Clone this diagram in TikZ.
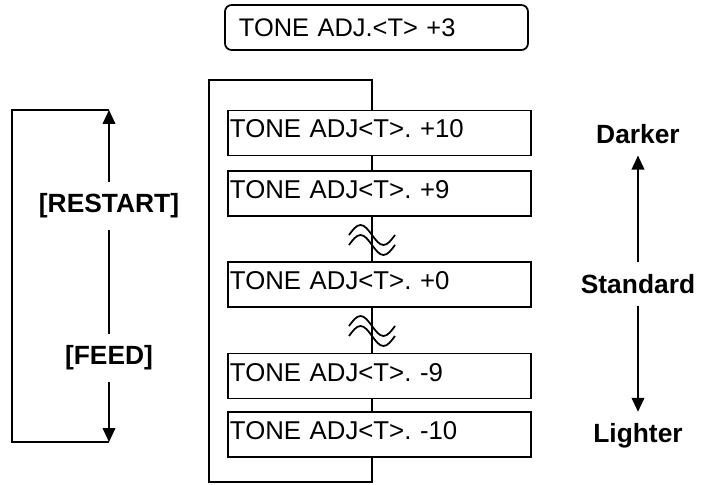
\documentclass[tikz,border=0pt]{standalone}
\usepackage{fontspec}
\setmainfont{Liberation Sans}
\frenchspacing
\usepackage{tikz}
\usetikzlibrary{arrows.meta, positioning}

\begin{document}
\begin{tikzpicture}[x=0.03cm, y=-0.03cm, line width=1.5pt,
  >={Triangle[length=0.42cm, width=0.38cm]},
  tonebox/.style={draw, fill=white, minimum width=9.09cm, minimum height=1.35cm,
    text width=8.97cm, inner xsep=0.06cm, align=left, text depth=0.24cm,
    font=\fontsize{22}{25}\selectfont},
  topbox/.style={draw, rounded corners=0.2cm, minimum width=9.09cm, minimum height=1.35cm,
    text width=8.25cm, inner xsep=0.42cm, align=left,
    font=\fontsize{21.7}{25}\selectfont},
  keylabel/.style={font=\bfseries\fontsize{22.5}{26}\selectfont, inner xsep=2pt, inner ysep=0.33cm}]
\useasboundingbox (0,0) rectangle (702,485);

% current setting
\node[topbox] (current) at (376.5,27.5) {TONE ADJ.<T> +3};

% frame behind the menu items
\draw (209,80) rectangle (372,482);

\node[tonebox] (p10) at (379.5,133) {TONE ADJ<T>. +10};
\node[tonebox] (p9) at (379.5,193.5) {TONE ADJ<T>. +9};
\node[tonebox] (p0) at (379.5,284.5) {TONE ADJ<T>. +0};
\node[tonebox] (m9) at (379.5,376) {TONE ADJ<T>. -9};
\node[tonebox] (m10) at (379.5,434.5) {TONE ADJ<T>. -10};

% omission marks
\foreach \wy in {235,245,326,336}
  \draw (349,\wy) sin ++(11.5,-10) cos ++(11.5,10) sin ++(11.5,10) cos ++(11.5,-10);

% keys
\node[keylabel] (restart) at (109,206) {[RESTART]};
\node[keylabel] (feed) at (109,358) {[FEED]};
\coordinate (lt) at (109,110);
\coordinate (lb) at (109,442);
\coordinate (ltl) at (12,110);
\coordinate (lbl) at (12,442);
\draw[->] (restart) -- (lt);
\draw (restart) -- (feed);
\draw[->] (feed) -- (lb);
\draw (lb) -- (lbl) -- (ltl) -- (lt);

% print density
\node[keylabel] (darker) at (638,134) {Darker};
\node[keylabel] (standard) at (638,284) {Standard};
\node[keylabel] (lighter) at (638,436) {Lighter};
\draw[->] (standard) -- (darker);
\draw[->] (standard) -- (lighter);

\end{tikzpicture}
\end{document}
